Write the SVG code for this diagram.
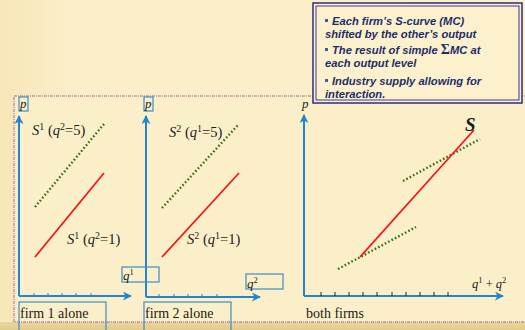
<svg xmlns="http://www.w3.org/2000/svg" width="525" height="330" viewBox="0 0 525 330">
<defs>
<linearGradient id="bg" x1="0" y1="0" x2="1" y2="0">
<stop offset="0" stop-color="#F7E6B8"/>
<stop offset="0.15" stop-color="#FBEFCA"/>
<stop offset="1" stop-color="#FCF0CC"/>
</linearGradient>
<linearGradient id="band" x1="0" y1="0" x2="0" y2="1">
<stop offset="0" stop-color="#EAD6A0"/>
<stop offset="1" stop-color="#E2CB8C"/>
</linearGradient>
<marker id="ax" viewBox="0 0 10 10" refX="9" refY="5" markerWidth="9" markerHeight="9" markerUnits="userSpaceOnUse" orient="auto">
<path d="M0,0 L10,5 L0,10 L3,5 z" fill="#1F86CF"/>
</marker>
<style>
.axis{stroke:#1F86CF;stroke-width:2;fill:none}
.tick{stroke:#1F86CF;stroke-width:1}
.tickb{stroke:#222;stroke-width:1}
.lbox{fill:none;stroke:#3C8CC8;stroke-width:1.2}
.red{stroke:#FF1010;stroke-width:1.7;fill:none}
.grn{stroke:#3D6B16;stroke-width:2.4;stroke-dasharray:1.6 2.2;fill:none}
.tm{font-family:"Liberation Serif","Times New Roman",serif;fill:#1a1a1a}
.it{font-style:italic}
.bx{font-family:"Liberation Sans",Arial,sans-serif;font-weight:bold;font-style:italic;font-size:11.2px;fill:#1C2E6A}
.bul{fill:#3A5FA0}
</style>
</defs>
<rect x="0" y="0" width="525" height="330" fill="url(#bg)"/>
<rect x="0" y="322" width="525" height="8" fill="url(#band)"/>
<rect x="14" y="96" width="520" height="226" fill="#FBEFCA" stroke="#B0628E" stroke-width="1" stroke-dasharray="3 1 1 1"/>

<g id="textbox">
<rect x="313" y="3" width="209" height="100" fill="#FCF0CD" stroke="#2C2C84" stroke-width="1.5"/>
<rect x="316" y="6" width="203" height="94" fill="none" stroke="#3A3A94" stroke-width="1"/>
<rect class="bul" x="325" y="19" width="3" height="3"/>
<text class="bx" x="332" y="25">Each firm’s S-curve (MC)</text>
<text class="bx" x="325" y="38">shifted by the other’s output</text>
<rect class="bul" x="325" y="48" width="3" height="3"/>
<text class="bx" x="332" y="54">The result of simple <tspan font-family="'Liberation Serif',serif" font-style="normal" font-size="14">Σ</tspan>MC at</text>
<text class="bx" x="325" y="67">each output level</text>
<rect class="bul" x="325" y="79" width="3" height="3"/>
<text class="bx" x="332" y="85">Industry supply allowing for</text>
<text class="bx" x="325" y="98">interaction.</text>
</g>

<g id="connectors">
<line class="axis" x1="19" y1="296" x2="19" y2="116" marker-end="url(#ax)"/>
<line class="axis" x1="19" y1="296" x2="131" y2="296" marker-end="url(#ax)"/>
<path class="tick" d="M34,296v-3M48,296v-3M62,296v-3M76,296v-3M91,296v-3"/>
<line class="axis" x1="146" y1="297" x2="146" y2="116" marker-end="url(#ax)"/>
<line class="axis" x1="146" y1="297" x2="260" y2="297" marker-end="url(#ax)"/>
<path class="tick" d="M159,297v-3M174,297v-3M188,297v-3M202,297v-3M217,297v-3"/>
<line class="axis" x1="304" y1="296" x2="304" y2="115" marker-end="url(#ax)"/>
<line class="axis" x1="304" y1="296" x2="503" y2="296" marker-end="url(#ax)"/>
<path class="tickb" d="M321,296v-4M335,296v-4M349,296v-4M363,296v-4M377,296v-4M392,296v-4M406,296v-4M420,296v-4M434,296v-4M448,296v-4"/>
</g>

<g id="firm1">
<rect class="lbox" x="19" y="97" width="9" height="14"/>
<text class="tm it" x="20" y="108" font-size="13">p</text>
<line class="grn" x1="35" y1="207" x2="104" y2="124"/>
<line class="red" x1="35" y1="257" x2="104" y2="173"/>
<text class="tm" x="32" y="135" font-size="14.5"><tspan class="it">S</tspan><tspan dy="-5.5" font-size="10">1</tspan><tspan dy="5.5"> (</tspan><tspan class="it">q</tspan><tspan dy="-5.5" font-size="10">2</tspan><tspan dy="5.5">=5)</tspan></text>
<text class="tm" x="67" y="244" font-size="14.5"><tspan class="it">S</tspan><tspan dy="-5.5" font-size="10">1</tspan><tspan dy="5.5"> (</tspan><tspan class="it">q</tspan><tspan dy="-5.5" font-size="10">2</tspan><tspan dy="5.5">=1)</tspan></text>
<rect class="lbox" x="122" y="267" width="37" height="15"/>
<text class="tm" x="123" y="280" font-size="13"><tspan class="it">q</tspan><tspan dy="-5" font-size="8.5">1</tspan></text>
<rect class="lbox" x="19" y="302" width="87" height="32"/>
<text class="tm" x="20" y="318" font-size="14">firm 1 alone</text>
</g>

<g id="firm2">
<rect class="lbox" x="144" y="97" width="9" height="14"/>
<text class="tm it" x="145" y="108" font-size="13">p</text>
<line class="grn" x1="162" y1="208" x2="238" y2="125"/>
<line class="red" x1="162" y1="257" x2="239" y2="173"/>
<text class="tm" x="169" y="137" font-size="14.5"><tspan class="it">S</tspan><tspan dy="-5.5" font-size="10">2</tspan><tspan dy="5.5"> (</tspan><tspan class="it">q</tspan><tspan dy="-5.5" font-size="10">1</tspan><tspan dy="5.5">=5)</tspan></text>
<text class="tm" x="187" y="244" font-size="14.5"><tspan class="it">S</tspan><tspan dy="-5.5" font-size="10">2</tspan><tspan dy="5.5"> (</tspan><tspan class="it">q</tspan><tspan dy="-5.5" font-size="10">1</tspan><tspan dy="5.5">=1)</tspan></text>
<rect class="lbox" x="246" y="274" width="37" height="15"/>
<text class="tm" x="247" y="288" font-size="13"><tspan class="it">q</tspan><tspan dy="-5" font-size="8.5">2</tspan></text>
<rect class="lbox" x="144" y="302" width="87" height="32"/>
<text class="tm" x="145" y="318" font-size="14">firm 2 alone</text>
</g>

<g id="both">
<text class="tm it" x="302" y="108" font-size="13">p</text>
<line class="grn" x1="403" y1="181" x2="480" y2="139"/>
<line class="grn" x1="338" y1="269" x2="416" y2="227"/>
<line class="red" x1="360" y1="257" x2="474" y2="130"/>
<text class="tm it" x="465" y="131" font-size="19" font-weight="bold">S</text>
<text class="tm" x="472" y="288" font-size="12.5"><tspan class="it">q</tspan><tspan dy="-5" font-size="8.5">1</tspan><tspan dy="5"> + </tspan><tspan class="it">q</tspan><tspan dy="-5" font-size="8.5">2</tspan></text>
<text class="tm" x="306" y="318" font-size="14">both firms</text>
</g>
</svg>
